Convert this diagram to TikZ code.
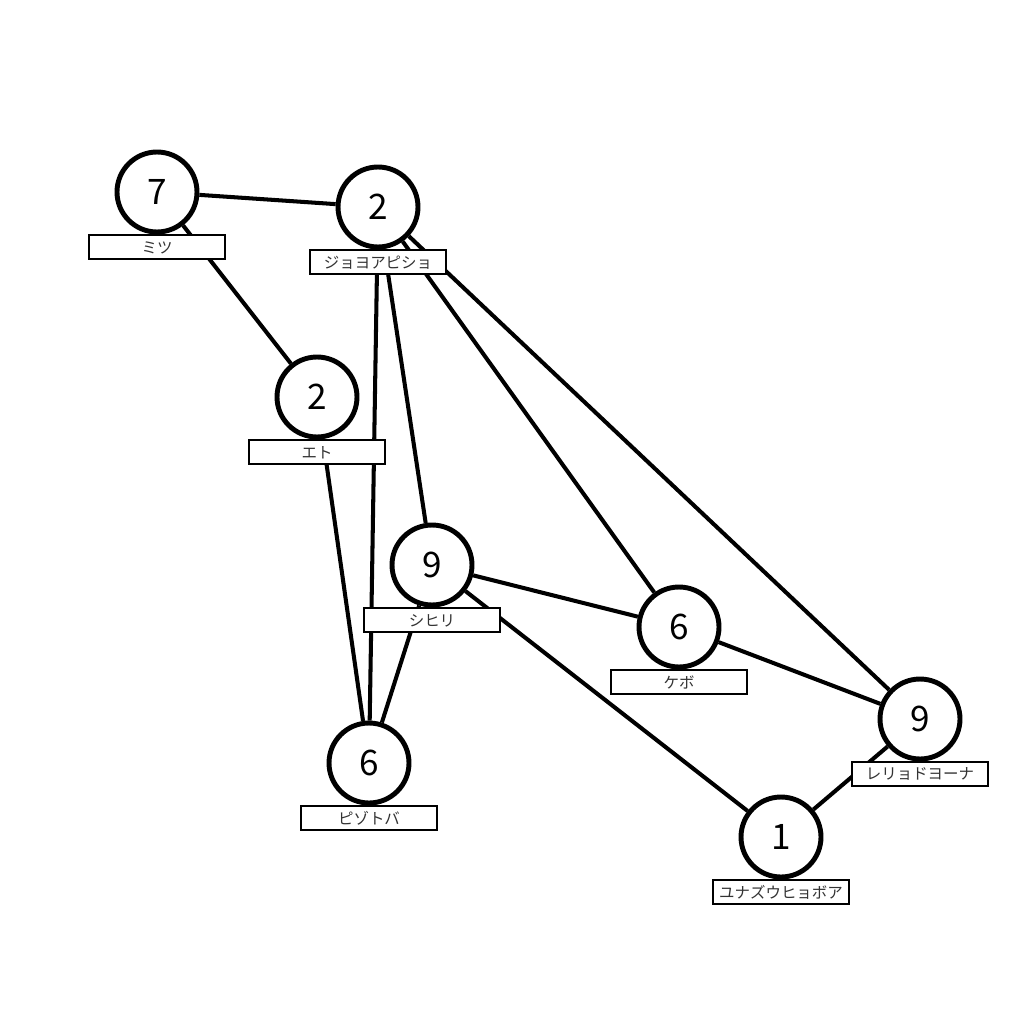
\documentclass[tikz,border=0pt]{standalone}
\usepackage{fontspec}
\setmainfont{Noto Sans CJK JP}
\usetikzlibrary{positioning,backgrounds}

\tikzset{
	vertex/.style={circle, draw=black, fill=white, line width=2.8pt, minimum size=1.6cm, inner sep=0pt, font=\fontsize{20}{22}\selectfont},
	namebox/.style={rectangle, draw=black, fill=white, line width=1.1pt, minimum width=2.72cm, minimum height=0.48cm, inner sep=0pt, font=\fontsize{8.8}{9}\selectfont, text=black!80},
	link/.style={line width=2.3pt, draw=black}
}

\begin{document}
\begin{tikzpicture}[x=0.02cm, y=-0.02cm]
				\useasboundingbox (0,0) rectangle (1024,1024);
				% vertices
				\node [vertex] (mitsu)   at (157,192) {7};
				\node [vertex] (jyoyo)   at (378,207) {2};
				\node [vertex] (eto)     at (317,397) {2};
				\node [vertex] (shihiri) at (432,565) {9};
				\node [vertex] (kebo)    at (679,627) {6};
				\node [vertex] (reryo)   at (920,719) {9};
				\node [vertex] (yuna)    at (781,837) {1};
				\node [vertex] (pizo)    at (369,763) {6};
				% names
				\node [namebox, below=0pt of mitsu]   (mitsuL)   {ミツ};
				\node [namebox, below=0pt of jyoyo]   (jyoyoL)   {ジョヨアピショ};
				\node [namebox, below=0pt of eto]     (etoL)     {エト};
				\node [namebox, below=0pt of shihiri] (shihiriL) {シヒリ};
				\node [namebox, below=0pt of kebo]    (keboL)    {ケボ};
				\node [namebox, below=0pt of reryo]   (reryoL)   {レリョドヨーナ};
				\node [namebox, below=0pt of yuna]    (yunaL)    {ユナズウヒョボア};
				\node [namebox, below=0pt of pizo]    (pizoL)    {ピゾトバ};
				% edges
				\begin{scope}[on background layer]
				\draw [link] (mitsu) -- (jyoyo);
				\draw [link] (mitsu) -- (eto);
				\draw [link] (jyoyo) -- (pizo);
				\draw [link] (jyoyo) -- (shihiri);
				\draw [link] (jyoyo) -- (kebo);
				\draw [link] (jyoyo) -- (reryo);
				\draw [link] (eto) -- (pizo);
				\draw [link] (shihiri) -- (pizo);
				\draw [link] (shihiri) -- (kebo);
				\draw [link] (shihiri) -- (yuna);
				\draw [link] (kebo) -- (reryo);
				\draw [link] (reryo) -- (yuna);
				\end{scope}
\end{tikzpicture}
\end{document}
